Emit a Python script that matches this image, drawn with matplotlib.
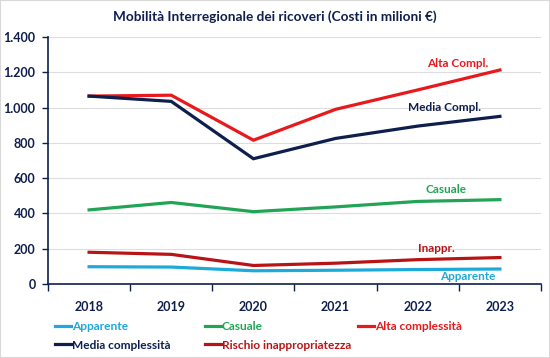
import matplotlib
matplotlib.use("Agg")
import matplotlib.pyplot as plt
from matplotlib.ticker import FuncFormatter, FixedLocator
from matplotlib.lines import Line2D

plt.rcParams['font.family'] = ['Lato', 'DejaVu Sans']

years = ["2018", "2019", "2020", "2021", "2022", "2023"]
apparente = [98, 96, 75, 78, 82, 85]
casuale = [420, 462, 410, 437, 468, 478]
alta = [1065, 1070, 815, 990, 1100, 1213]
media = [1065, 1035, 710, 825, 895, 950]
rischio = [180, 168, 105, 118, 138, 150]

series_names = ["Apparente", "Casuale", "Alta complessità", "Media complessità", "Rischio inappropriatezza"]
short_labels = ["Apparente", "Casuale", "Alta Compl.", "Media Compl.", "Inappr."]
colors = ["#1EAAD9", "#22A457", "#E8191C", "#0E1F4D", "#B81416"]
values = [apparente, casuale, alta, media, rischio]

fig = plt.figure(figsize=(5.5, 3.58), dpi=100)
fig.patch.set_facecolor("white")
ax = fig.add_axes([0.0873, 0.2067, 0.8963, 0.69])
navy = "#0E1F4D"

x = list(range(len(years)))
handles = []
for name, col, vals in zip(series_names, colors, values):
    ax.plot(x, vals, color=col, lw=2.3, solid_joinstyle='miter')
    handles.append(Line2D([0], [0], color=col, lw=2.3))

ax.set_xlim(-0.5, len(years) - 0.5)
ax.set_ylim(0, 1400)
ax.set_yticks(range(0, 1401, 200))
ax.yaxis.set_major_formatter(FuncFormatter(lambda v, p: f"{int(v):,}".replace(",", ".")))
ax.set_xticks(x)
ax.set_xticklabels(years)
ax.xaxis.set_minor_locator(FixedLocator([i - 0.5 for i in range(len(years) + 1)]))
ax.tick_params(axis='x', which='major', length=0, pad=12, labelsize=9, labelcolor=navy)
ax.tick_params(axis='x', which='minor', length=5, width=1, color=navy, direction='out')
ax.tick_params(axis='y', length=4, width=1, color=navy, labelsize=9, labelcolor=navy, pad=5)
for lab in ax.get_xticklabels() + ax.get_yticklabels():
    lab.set_fontweight('bold')

ax.grid(axis='y', color="#DDDDDD", lw=0.8)
ax.set_axisbelow(True)
for s in ["top", "right"]:
    ax.spines[s].set_visible(False)
for s in ["left", "bottom"]:
    ax.spines[s].set_color(navy)
    ax.spines[s].set_linewidth(1.2)

# inline labels
label_pos = [(4.61, 45), (4.35, 538), (4.49, 1247), (4.33, 998), (4.23, 204)]
for (lx, ly), lab, col in zip(label_pos, short_labels, colors):
    ax.text(lx, ly, lab, color=col, fontsize=8.5, fontweight='bold', ha='center', va='center')

fig.suptitle("Mobilità Interregionale dei ricoveri (Costi in milioni €)", x=0.5, y=0.972,
             fontsize=9.8, fontweight='bold', color=navy)

# legend in three columns placed separately
columns = [[0, 3], [1, 4], [2]]
col_x = [55 / 550, 205 / 550, 358 / 550]
for cx, idxs in zip(col_x, columns):
    leg = fig.legend([handles[i] for i in idxs], [series_names[i] for i in idxs],
                     loc='upper left', bbox_to_anchor=(cx, 0.103), frameon=False,
                     borderpad=0, borderaxespad=0,
                     handlelength=1.3, handletextpad=0.1, labelspacing=0.62,
                     prop={'weight': 'bold', 'size': 8.6})
    for txt, i in zip(leg.get_texts(), idxs):
        txt.set_color(colors[i])

# border
fig.add_artist(plt.Rectangle((0, 0), 1, 1, transform=fig.transFigure, fill=False,
                             edgecolor="#D9D9D9", lw=1.5))

fig.savefig("out.png", dpi=100)
